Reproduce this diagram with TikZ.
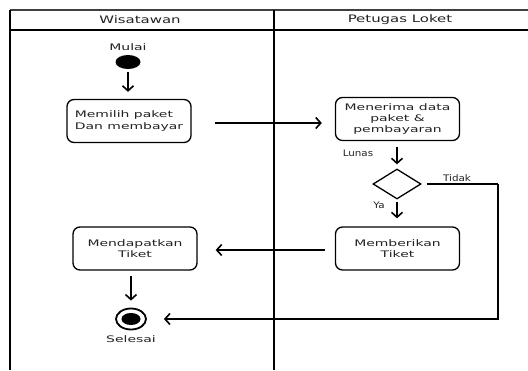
\documentclass[tikz,border=0pt]{standalone}
\usepackage{fontspec}
\setmainfont{DejaVu Sans}
\newfontfamily\mainf[FakeStretch=1.55]{DejaVu Sans}
\newfontfamily\hdrf[FakeStretch=1.45]{DejaVu Sans}
\newfontfamily\labf[FakeStretch=1.15]{DejaVu Sans}
\usetikzlibrary{arrows.meta,shapes.geometric}
\definecolor{txt}{HTML}{222222}
\tikzset{
  act/.style={draw, line width=1.3pt, rounded corners=7pt, minimum width=124pt, minimum height=43pt,
    align=center, inner sep=0pt, font=\mainf\fontsize{9}{11}\selectfont, text=txt},
  arr/.style={line width=1.8pt, -{Straight Barb[length=5pt,width=11pt,line width=1.6pt]}},
  lane/.style={line width=1.3pt},
  hdr/.style={font=\hdrf\fontsize{10.3}{12}\selectfont, text=txt},
  lbl/.style={font=\mainf\fontsize{9}{10}\selectfont, text=txt, inner sep=0pt},
  slbl/.style={font=\labf\fontsize{9}{10}\selectfont, text=txt, inner sep=0pt}
}
\begin{document}
\begin{tikzpicture}[x=1pt,y=-1pt]
\useasboundingbox (0,0) rectangle (528,370);
% swimlane frame
\draw[lane, draw=black!75] (10,10) -- (528,10);
\draw[lane] (10,30) -- (528,30);
\draw[lane] (10,10) -- (10,370);
\draw[lane] (274,10) -- (274,370);
\node[hdr] (h1) at (140,20) {Wisatawan};
\node[hdr] (h2) at (400,20) {Petugas Loket};
% nodes
\node[lbl] (mulai) at (128,47) {Mulai};
\node[ellipse, fill=black, minimum width=25pt, minimum height=14pt, inner sep=0pt] (start) at (128,62) {};
\node[act, align=left, font=\mainf\fontsize{9}{12.5}\selectfont] (b1) at (129,121) {Memilih paket\\Dan membayar};
\node[act] (b2) at (397.5,119) {Menerima data\\paket \&\\pembayaran};
\node[diamond, draw, line width=1.3pt, minimum width=48pt, minimum height=30pt, inner sep=0pt] (dec) at (397,184) {};
\node[act] (b3) at (397.5,248.5) {Memberikan\\Tiket};
\node[act] (b4) at (135,248.5) {Mendapatkan\\Tiket};
\node[ellipse, draw, line width=1.8pt, minimum width=30pt, minimum height=21pt, inner sep=0pt] (end) at (131,319) {};
\node[ellipse, fill=black, minimum width=19pt, minimum height=12pt, inner sep=0pt] (endin) at (end.center) {};
\node[lbl] (selesai) at (131,339) {Selesai};
\node[slbl] (lunas) at (358,153) {Lunas};
\node[slbl] (ya) at (379,205) {Ya};
\node[slbl] (tidak) at (457,178) {Tidak};
\coordinate (corner) at (498,184);
% connectors
\draw[arr, shorten <=3pt, shorten >=7pt] (start) -- (b1.north -| start.south);
\draw[arr] ([xshift=23pt,yshift=-2pt]b1.east) -- ([xshift=-13pt,yshift=-4pt]b2.west);
\draw[arr, shorten <=6pt, shorten >=4pt] (b2.south -| dec.north) -- (dec.north);
\draw[arr, shorten <=2pt, shorten >=8pt] (dec.south) -- (dec.south |- b3.north);
\draw[line width=1.8pt] ([xshift=5pt]dec.east) -- (corner);
\draw[arr, shorten >=17pt] (corner) |- (end.east);
\draw[arr] ([xshift=-10pt,yshift=-1.5pt]b3.west) -- ([xshift=18pt,yshift=-1.5pt]b4.east);
\draw[arr, shorten <=5pt, shorten >=7pt] (b4.south -| end.north) -- (end.north);
\end{tikzpicture}
\end{document}
